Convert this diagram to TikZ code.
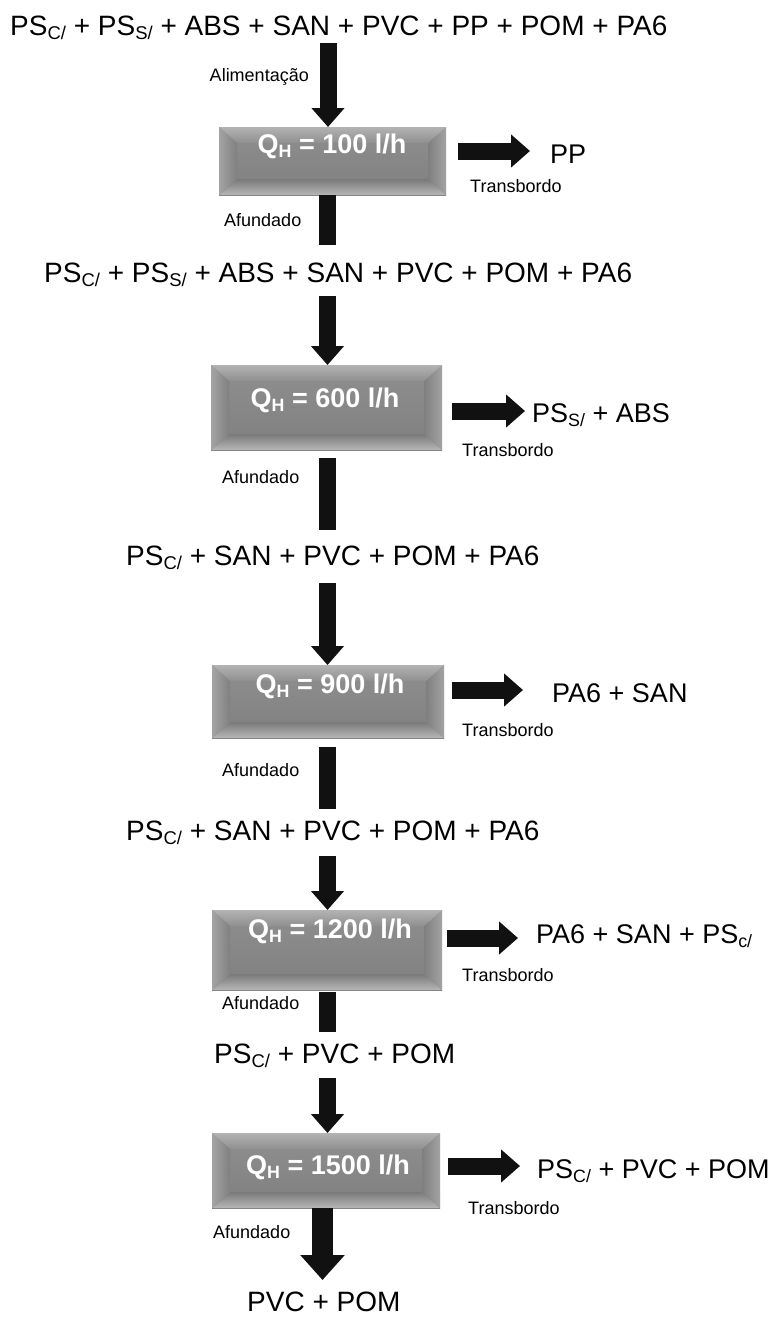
\documentclass[tikz,border=0pt]{standalone}
\usepackage{fontspec}
\setmainfont{Liberation Sans}
\usetikzlibrary{arrows.meta,calc}
\definecolor{ink}{HTML}{111111}
\newcommand\sbx[1]{\raisebox{-0.16em}{\scalebox{0.66}{#1}}}
\begin{document}
\begin{tikzpicture}[x=1pt,y=-1pt,
  big/.style={font=\fontsize{28}{30}\selectfont, inner sep=0, anchor=base west},
  prod/.style={font=\fontsize{27}{29}\selectfont, inner sep=0, anchor=base west},
  small/.style={font=\fontsize{18}{20}\selectfont, inner sep=0, anchor=base west},
  boxtext/.style={font=\bfseries\fontsize{27}{29}\selectfont, text=white, inner sep=0, anchor=base},
  fat/.style={draw=ink, line width=17pt, -{Triangle[length=19pt,width=32pt]}},
  fatbig/.style={draw=ink, line width=21pt, -{Triangle[length=25pt,width=43pt]}},
  bar/.style={draw=ink, line width=17pt},
  bevel/.style={anchor=north west, inner sep=0,
    top color=black!44, bottom color=black!50,
    path picture={
      \coordinate (pnw) at (path picture bounding box.north west);
      \coordinate (pne) at (path picture bounding box.north east);
      \coordinate (psw) at (path picture bounding box.south west);
      \coordinate (pse) at (path picture bounding box.south east);
      \shade[top color=black!30, bottom color=black!44]
        (pnw) -- (pne) -- ([shift={(-18,16)}]pne) -- ([shift={(18,16)}]pnw) -- cycle;
      \shade[top color=black!52, bottom color=black!28]
        (psw) -- (pse) -- ([shift={(-18,-16)}]pse) -- ([shift={(18,-16)}]psw) -- cycle;
      \shade[left color=black!36, right color=black!50]
        (pnw) -- ([shift={(18,16)}]pnw) -- ([shift={(18,-16)}]psw) -- (psw) -- cycle;
      \shade[left color=black!50, right color=black!36]
        (pne) -- ([shift={(-18,16)}]pne) -- ([shift={(-18,-16)}]pse) -- (pse) -- cycle;
    }}]
\useasboundingbox (0,0) rectangle (771,1318);

% texts of streams
\node[big] (l1) at (10,35) {PS\sbx{C/} + PS\sbx{S/} + ABS + SAN + PVC + PP + POM + PA6};
\node[big] (l2) at (44,282) {PS\sbx{C/} + PS\sbx{S/} + ABS + SAN + PVC + POM + PA6};
\node[big] (l3) at (126,565) {PS\sbx{C/} + SAN + PVC + POM + PA6};
\node[big] (l4) at (126,840) {PS\sbx{C/} + SAN + PVC + POM + PA6};
\node[big] (l5) at (214,1063) {PS\sbx{C/} + PVC + POM};
\node[big] (l6) at (247,1311) {PVC + POM};

% boxes
\node[bevel, minimum width=227, minimum height=68] (b1) at (219,127) {};
\node[bevel, minimum width=231, minimum height=85] (b2) at (211,365) {};
\node[bevel, minimum width=232, minimum height=73] (b3) at (212,665) {};
\node[bevel, minimum width=230, minimum height=80] (b4) at (212,910) {};
\node[bevel, minimum width=228, minimum height=75] (b5) at (212,1133) {};

\node[boxtext] (t1) at (332,153) {Q\sbx{H} = 100 l/h};
\node[boxtext] (t2) at (325,407) {Q\sbx{H} = 600 l/h};
\node[boxtext] (t3) at (330,693) {Q\sbx{H} = 900 l/h};
\node[boxtext] (t4) at (330,938) {Q\sbx{H} = 1200 l/h};
\node[boxtext] (t5) at (328,1174) {Q\sbx{H} = 1500 l/h};

% overflow products
\node[prod] (o1) at (550,163) {PP};
\node[prod] (o2) at (532,422) {PS\sbx{S/} + ABS};
\node[prod] (o3) at (552,702) {PA6 + SAN};
\node[prod] (o4) at (536,943) {PA6 + SAN + PS\sbx{c/}};
\node[prod] (o5) at (537,1178) {PS\sbx{C/} + PVC + POM};

% small labels
\node[small, anchor=base east] (al) at (309,81) {Alimentação};
\node[small] (tr1) at (470,192) {Transbordo};
\node[small] (tr2) at (462,456) {Transbordo};
\node[small] (tr3) at (462,736) {Transbordo};
\node[small] (tr4) at (462,981) {Transbordo};
\node[small] (tr5) at (468,1214) {Transbordo};
\node[small] (af1) at (224,226) {Afundado};
\node[small] (af2) at (222,483) {Afundado};
\node[small] (af3) at (222,776) {Afundado};
\node[small] (af4) at (222,1009) {Afundado};
\node[small] (af5) at (213,1238) {Afundado};

% vertical connectors
\coordinate (s1) at (328,43);
\draw[fat] (s1) -- (s1 |- b1.north);
\coordinate (e1) at (327.5,245);
\draw[bar] (e1 |- b1.south) -- (e1);
\coordinate (s2) at (327.5,296);
\draw[fat] (s2) -- (s2 |- b2.north);
\coordinate (e2) at (327.5,530);
\draw[bar, shorten <=8pt] (e2 |- b2.south) -- (e2);
\coordinate (s3) at (327.5,583);
\draw[fat] (s3) -- (s3 |- b3.north);
\coordinate (e3) at (327.5,809);
\draw[bar, shorten <=9pt] (e3 |- b3.south) -- (e3);
\coordinate (s4) at (327.5,856);
\draw[fat] (s4) -- (s4 |- b4.north);
\coordinate (e4) at (327.5,1032);
\draw[bar, shorten <=2pt] (e4 |- b4.south) -- (e4);
\coordinate (s5) at (327.5,1078);
\draw[fat] (s5) -- (s5 |- b5.north);
\coordinate (e5) at (322.5,1280);
\draw[fatbig] (e5 |- b5.south) -- (e5);

% horizontal connectors
\coordinate (r1) at (530,151);
\draw[fat, shorten <=12pt] (b1.east |- r1) -- (r1);
\coordinate (r2) at (525,411);
\draw[fat, shorten <=10pt] (b2.east |- r2) -- (r2);
\coordinate (r3) at (523,690);
\draw[fat, shorten <=8pt] (b3.east |- r3) -- (r3);
\coordinate (r4) at (518,938);
\draw[fat, shorten <=5pt] (b4.east |- r4) -- (r4);
\coordinate (r5) at (520,1166);
\draw[fat, shorten <=8pt] (b5.east |- r5) -- (r5);
\end{tikzpicture}
\end{document}
